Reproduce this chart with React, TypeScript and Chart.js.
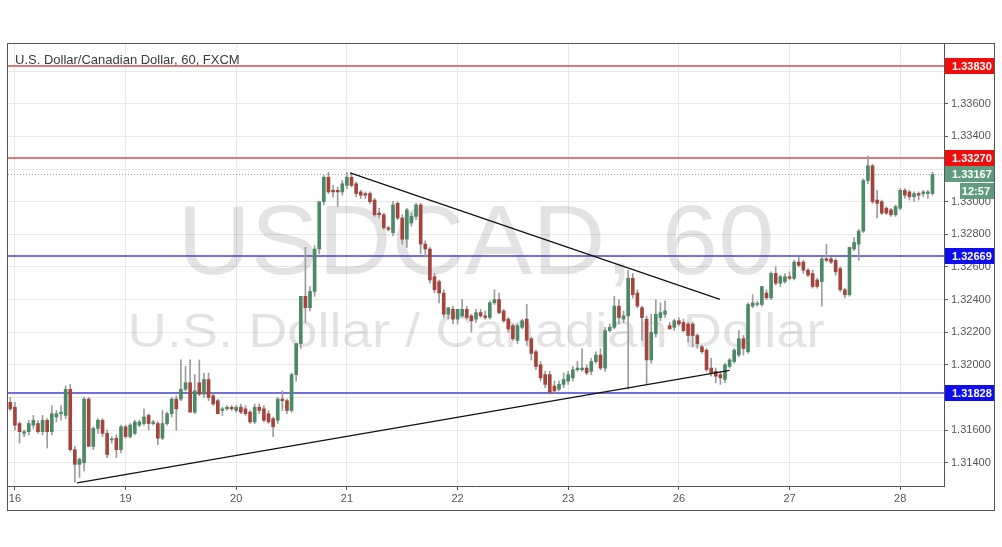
import React, { useEffect, useRef } from 'react';
import { Chart, registerables } from 'chart.js';

Chart.register(...registerables);

// ---- Data ----
const chartTitle = 'U.S. Dollar/Canadian Dollar, 60, FXCM';
const watermarkSymbol = 'USDCAD, 60';
const watermarkName = 'U.S. Dollar / Canadian Dollar';

const dayLabels = ['16', '19', '20', '21', '22', '23', '26', '27', '28'];
const dayStartIndex = [1, 25, 49, 73, 97, 121, 145, 169, 193];
const slotCount = 203;

const yMin = 1.31257;
const yMax = 1.33973;
const yStep = 0.002;

const open = [
  1.3177, 1.3174, 1.3164, 1.3158, 1.3159, 1.3163, 1.3164, 1.3159, 1.3166, 1.3159,
  1.3168, 1.3170, 1.3169, 1.3185, 1.3148, 1.3139, 1.3140, 1.3179, 1.3150, 1.3161,
  1.3166, 1.3158, 1.3154, 1.3155, 1.3148, 1.3162, 1.3156, 1.3158, 1.3163, 1.3164,
  1.3169, 1.3164, 1.3164, 1.3155, 1.3164, 1.3170, 1.3179, 1.3179, 1.3185, 1.3189,
  1.3171, 1.3189, 1.3182, 1.3191, 1.3181, 1.3178, 1.3172, 1.3173, 1.3174, 1.3172,
  1.3174, 1.3173, 1.3171, 1.3165, 1.3174, 1.3173, 1.3170, 1.3167, 1.3166, 1.3179,
  1.3178, 1.3172, 1.3194, 1.3213, 1.3242, 1.3235, 1.3245, 1.3271, 1.3300, 1.3315,
  1.3307, 1.3307, 1.3306, 1.3310, 1.3315, 1.3311, 1.3306, 1.3305, 1.3305, 1.3301,
  1.3293, 1.3292, 1.3284, 1.3281, 1.3299, 1.3290, 1.3277, 1.3287, 1.3291, 1.3298,
  1.3274, 1.3271, 1.3254, 1.3251, 1.3244, 1.3231, 1.3234, 1.3228, 1.3230, 1.3234,
  1.3230, 1.3228, 1.3232, 1.3230, 1.3229, 1.3238, 1.3240, 1.3233, 1.3228, 1.3224,
  1.3215, 1.3223, 1.3228, 1.3216, 1.3208, 1.3200, 1.3194, 1.3194, 1.3187, 1.3185,
  1.3188, 1.3190, 1.3192, 1.3197, 1.3197, 1.3198, 1.3196, 1.3202, 1.3206, 1.3198,
  1.3221, 1.3223, 1.3236, 1.3228, 1.3230, 1.3253, 1.3244, 1.3235, 1.3228, 1.3203,
  1.3219, 1.3229, 1.3231, 1.3224, 1.3223, 1.3227, 1.3226, 1.3225, 1.3225, 1.3218,
  1.3211, 1.3209, 1.3198, 1.3196, 1.3194, 1.3191, 1.3199, 1.3202, 1.3206, 1.3216,
  1.3208, 1.3236, 1.3237, 1.3237, 1.3244, 1.3241, 1.3256, 1.3250, 1.3251, 1.3254,
  1.3253, 1.3263, 1.3263, 1.3258, 1.3256, 1.3252, 1.3251, 1.3265, 1.3265, 1.3264,
  1.3259, 1.3246, 1.3243, 1.3271, 1.3274, 1.3282, 1.3313, 1.3322, 1.3301, 1.3300,
  1.3296, 1.3295, 1.3292, 1.3296, 1.3307, 1.3306, 1.3303, 1.3305, 1.3305, 1.3305,
  1.3305,
];
const high = [
  1.3180, 1.3177, 1.3165, 1.3160, 1.3166, 1.3169, 1.3166, 1.3169, 1.3167, 1.3175,
  1.3172, 1.3175, 1.3187, 1.3188, 1.3150, 1.3143, 1.3180, 1.3180, 1.3162, 1.3167,
  1.3167, 1.3160, 1.3156, 1.3157, 1.3163, 1.3163, 1.3164, 1.3166, 1.3166, 1.3173,
  1.3170, 1.3166, 1.3165, 1.3172, 1.3171, 1.3180, 1.3181, 1.3203, 1.3199, 1.3203,
  1.3194, 1.3203, 1.3195, 1.3195, 1.3182, 1.3179, 1.3174, 1.3175, 1.3175, 1.3175,
  1.3176, 1.3175, 1.3172, 1.3176, 1.3176, 1.3175, 1.3172, 1.3168, 1.3180, 1.3184,
  1.3179, 1.3195, 1.3213, 1.3242, 1.3272, 1.3248, 1.3273, 1.3300, 1.3316, 1.3318,
  1.3310, 1.3309, 1.3313, 1.3318, 1.3317, 1.3312, 1.3307, 1.3306, 1.3306, 1.3302,
  1.3296, 1.3293, 1.3285, 1.3300, 1.3300, 1.3292, 1.3296, 1.3293, 1.3299, 1.3299,
  1.3276, 1.3272, 1.3256, 1.3252, 1.3246, 1.3235, 1.3236, 1.3234, 1.3240, 1.3236,
  1.3231, 1.3234, 1.3234, 1.3233, 1.3239, 1.3246, 1.3244, 1.3234, 1.3229, 1.3225,
  1.3225, 1.3228, 1.3237, 1.3217, 1.3209, 1.3202, 1.3196, 1.3196, 1.3190, 1.3190,
  1.3195, 1.3196, 1.3199, 1.3202, 1.3210, 1.3200, 1.3204, 1.3208, 1.3210, 1.3223,
  1.3225, 1.3242, 1.3240, 1.3233, 1.3258, 1.3256, 1.3246, 1.3236, 1.3230, 1.3231,
  1.3240, 1.3238, 1.3239, 1.3226, 1.3228, 1.3229, 1.3228, 1.3226, 1.3226, 1.3219,
  1.3212, 1.3210, 1.3204, 1.3198, 1.3196, 1.3201, 1.3204, 1.3210, 1.3221, 1.3218,
  1.3238, 1.3243, 1.3239, 1.3248, 1.3246, 1.3257, 1.3260, 1.3255, 1.3256, 1.3257,
  1.3264, 1.3266, 1.3264, 1.3259, 1.3258, 1.3253, 1.3266, 1.3274, 1.3266, 1.3265,
  1.3260, 1.3247, 1.3272, 1.3278, 1.3283, 1.3314, 1.3328, 1.3323, 1.3307, 1.3301,
  1.3297, 1.3296, 1.3298, 1.3308, 1.3308, 1.3307, 1.3306, 1.3306, 1.3307, 1.3307,
  1.3318,
];
const low = [
  1.3172, 1.3160, 1.3152, 1.3156, 1.3157, 1.3161, 1.3158, 1.3157, 1.3149, 1.3157,
  1.3165, 1.3166, 1.3167, 1.3147, 1.3128, 1.3131, 1.3135, 1.3150, 1.3148, 1.3158,
  1.3156, 1.3143, 1.3152, 1.3143, 1.3146, 1.3155, 1.3155, 1.3157, 1.3162, 1.3163,
  1.3160, 1.3163, 1.3151, 1.3154, 1.3163, 1.3168, 1.3160, 1.3178, 1.3184, 1.3171,
  1.3170, 1.3181, 1.3180, 1.3178, 1.3175, 1.3170, 1.3169, 1.3172, 1.3172, 1.3171,
  1.3170, 1.3169, 1.3164, 1.3164, 1.3170, 1.3165, 1.3164, 1.3156, 1.3164, 1.3172,
  1.3170, 1.3171, 1.3190, 1.3210, 1.3226, 1.3233, 1.3242, 1.3268, 1.3298, 1.3305,
  1.3303, 1.3297, 1.3304, 1.3308, 1.3309, 1.3303, 1.3302, 1.3302, 1.3299, 1.3291,
  1.3290, 1.3283, 1.3282, 1.3279, 1.3289, 1.3274, 1.3272, 1.3285, 1.3289, 1.3268,
  1.3266, 1.3250, 1.3244, 1.3238, 1.3229, 1.3228, 1.3225, 1.3225, 1.3229, 1.3228,
  1.3220, 1.3226, 1.3229, 1.3228, 1.3228, 1.3237, 1.3231, 1.3226, 1.3220, 1.3215,
  1.3213, 1.3222, 1.3212, 1.3203, 1.3197, 1.3190, 1.3186, 1.3182, 1.3183, 1.3184,
  1.3186, 1.3188, 1.3190, 1.3196, 1.3196, 1.3194, 1.3194, 1.3201, 1.3197, 1.3196,
  1.3220, 1.3222, 1.3225, 1.3226, 1.3185, 1.3241, 1.3235, 1.3215, 1.3188, 1.3201,
  1.3217, 1.3227, 1.3229, 1.3222, 1.3221, 1.3224, 1.3220, 1.3214, 1.3211, 1.3210,
  1.3207, 1.3196, 1.3193, 1.3189, 1.3188, 1.3189, 1.3198, 1.3201, 1.3205, 1.3206,
  1.3207, 1.3235, 1.3236, 1.3236, 1.3240, 1.3240, 1.3249, 1.3248, 1.3250, 1.3252,
  1.3252, 1.3260, 1.3256, 1.3254, 1.3247, 1.3247, 1.3236, 1.3263, 1.3262, 1.3255,
  1.3245, 1.3241, 1.3242, 1.3270, 1.3264, 1.3281, 1.3311, 1.3299, 1.3290, 1.3292,
  1.3292, 1.3291, 1.3291, 1.3295, 1.3302, 1.3301, 1.3300, 1.3301, 1.3303, 1.3302,
  1.3304,
];
const close = [
  1.3173, 1.3163, 1.3159, 1.3159, 1.3164, 1.3166, 1.3159, 1.3166, 1.3159, 1.3170,
  1.3170, 1.3171, 1.3185, 1.3148, 1.3139, 1.3142, 1.3179, 1.3150, 1.3161, 1.3166,
  1.3158, 1.3145, 1.3154, 1.3148, 1.3162, 1.3156, 1.3163, 1.3165, 1.3165, 1.3168,
  1.3164, 1.3165, 1.3155, 1.3164, 1.3170, 1.3179, 1.3173, 1.3185, 1.3189, 1.3171,
  1.3184, 1.3182, 1.3191, 1.3180, 1.3176, 1.3170, 1.3173, 1.3174, 1.3173, 1.3174,
  1.3171, 1.3170, 1.3165, 1.3174, 1.3172, 1.3166, 1.3165, 1.3162, 1.3179, 1.3178,
  1.3172, 1.3194, 1.3213, 1.3242, 1.3235, 1.3245, 1.3271, 1.3300, 1.3315, 1.3306,
  1.3306, 1.3306, 1.3311, 1.3315, 1.3310, 1.3305, 1.3304, 1.3304, 1.3300, 1.3292,
  1.3292, 1.3284, 1.3283, 1.3298, 1.3290, 1.3277, 1.3295, 1.3291, 1.3298, 1.3274,
  1.3271, 1.3252, 1.3246, 1.3244, 1.3231, 1.3235, 1.3228, 1.3234, 1.3234, 1.3229,
  1.3227, 1.3232, 1.3230, 1.3229, 1.3238, 1.3240, 1.3232, 1.3227, 1.3222, 1.3216,
  1.3224, 1.3227, 1.3215, 1.3207, 1.3199, 1.3192, 1.3188, 1.3183, 1.3184, 1.3188,
  1.3191, 1.3194, 1.3197, 1.3198, 1.3198, 1.3195, 1.3202, 1.3206, 1.3198, 1.3221,
  1.3223, 1.3236, 1.3229, 1.3230, 1.3253, 1.3243, 1.3236, 1.3229, 1.3203, 1.3220,
  1.3231, 1.3232, 1.3233, 1.3222, 1.3227, 1.3225, 1.3221, 1.3218, 1.3218, 1.3213,
  1.3208, 1.3197, 1.3195, 1.3193, 1.3192, 1.3200, 1.3203, 1.3209, 1.3216, 1.3210,
  1.3237, 1.3238, 1.3237, 1.3248, 1.3241, 1.3256, 1.3250, 1.3254, 1.3254, 1.3253,
  1.3263, 1.3261, 1.3258, 1.3255, 1.3248, 1.3248, 1.3265, 1.3264, 1.3263, 1.3257,
  1.3246, 1.3243, 1.3272, 1.3275, 1.3282, 1.3313, 1.3322, 1.3300, 1.3299, 1.3293,
  1.3293, 1.3292, 1.3297, 1.3307, 1.3304, 1.3303, 1.3305, 1.3304, 1.3306, 1.3306,
  1.33167,
];

const resistanceLevels = [1.3383, 1.3327];
const supportLevels = [1.32669, 1.31828];
const lastPrice = 1.33167;
const barTimeLeft = '12:57';

// trend lines: [startIndex, startPrice, endIndex, endPrice]
const risingTrendLine = [14.5, 1.31276, 156, 1.31966];
const fallingTrendLine = [73.7, 1.33177, 153.9, 1.32401];

// ---- Styles ----
const UP = '#4b8a65';
const DOWN = '#a3443d';
const WICK = '#9c9c9c';
const FONT = "'Liberation Sans', Arial, sans-serif";

export default function App() {
  const ref = useRef<HTMLCanvasElement>(null);

  useEffect(() => {
    if (!ref.current) return;
    const labels: string[] = Array.from({ length: slotCount }, () => '');
    dayStartIndex.forEach((idx, k) => { labels[idx] = dayLabels[k]; });
    const bodies = open.map((o, i) => [o, close[i]]);
    const wicks = low.map((l, i) => [l, high[i]]);
    const colors = open.map((o, i) => (close[i] >= o ? UP : DOWN));

    const overlay = {
      id: 'overlay',
      beforeDatasetsDraw(chart: any) {
        const { ctx, chartArea: a, scales } = chart;
        const y = scales.y;
        ctx.save();
        ctx.beginPath();
        ctx.rect(a.left, a.top, a.right - a.left, a.bottom - a.top);
        ctx.clip();
        // watermark
        ctx.fillStyle = 'rgba(0,0,0,0.11)';
        ctx.textAlign = 'center';
        ctx.textBaseline = 'alphabetic';
        const cx = (a.left + a.right) / 2;
        const drawFit = (text: string, size: number, baseline: number, width: number) => {
          ctx.font = `${size}px ${FONT}`;
          const w = ctx.measureText(text).width;
          ctx.save();
          ctx.translate(cx, baseline);
          ctx.scale(width / w, 1);
          ctx.fillText(text, 0, 0);
          ctx.restore();
        };
        drawFit(watermarkSymbol, 98, 274, 597);
        drawFit(watermarkName, 48, 347, 697);
        // levels
        const hline = (v: number, color: string, w: number, dash: number[] = []) => {
          const py = w % 2 === 0 ? Math.round(y.getPixelForValue(v)) : Math.round(y.getPixelForValue(v)) + 0.5;
          ctx.strokeStyle = color;
          ctx.lineWidth = w;
          ctx.setLineDash(dash);
          ctx.beginPath();
          ctx.moveTo(a.left, py);
          ctx.lineTo(a.right, py);
          ctx.stroke();
        };
        resistanceLevels.forEach((v) => hline(v, 'rgba(222,96,96,0.85)', 2));
        supportLevels.forEach((v) => hline(v, 'rgba(96,96,210,0.9)', 2));
        hline(lastPrice, 'rgba(90,150,120,0.8)', 1, [1, 2]);
        ctx.restore();
      },
      afterDatasetsDraw(chart: any) {
        const { ctx, chartArea: a, scales } = chart;
        const x = scales.x;
        const y = scales.y;
        ctx.save();
        ctx.beginPath();
        ctx.rect(a.left, a.top, a.right - a.left, a.bottom - a.top);
        ctx.clip();
        ctx.strokeStyle = '#111';
        ctx.lineWidth = 1.2;
        [risingTrendLine, fallingTrendLine].forEach((t) => {
          ctx.beginPath();
          ctx.moveTo(x.getPixelForValue(t[0]), y.getPixelForValue(t[1]));
          ctx.lineTo(x.getPixelForValue(t[2]), y.getPixelForValue(t[3]));
          ctx.stroke();
        });
        ctx.restore();
      },
      afterDraw(chart: any) {
        const { ctx, chartArea: a, scales } = chart;
        const y = scales.y;
        ctx.save();
        // price labels
        const box = (v: number, bg: string) => {
          const py = y.getPixelForValue(v);
          ctx.fillStyle = bg;
          ctx.fillRect(a.right + 1, Math.round(py) - 8, 50, 16);
          ctx.fillStyle = '#fff';
          ctx.font = `bold 11px ${FONT}`;
          ctx.textAlign = 'left';
          ctx.textBaseline = 'middle';
          ctx.fillText(v.toFixed(5), a.right + 8, Math.round(py) + 0.5);
          return py;
        };
        resistanceLevels.forEach((v) => box(v, '#f20d0d'));
        supportLevels.forEach((v) => box(v, '#0d0df0'));
        const lp = box(lastPrice, '#5f9c7d');
        ctx.fillStyle = '#5f9c7d';
        ctx.fillRect(a.right + 16, Math.round(lp) + 9, 35, 16);
        ctx.fillStyle = '#fff';
        ctx.font = `bold 11px ${FONT}`;
        ctx.textAlign = 'right';
        ctx.textBaseline = 'middle';
        ctx.fillText(barTimeLeft, a.right + 46, Math.round(lp) + 17.5);
        // frame
        ctx.strokeStyle = '#555';
        ctx.lineWidth = 1;
        ctx.strokeRect(7.5, 43.5, 987, 467);
        // title
        ctx.fillStyle = '#3a3a3a';
        ctx.font = `13px ${FONT}`;
        ctx.textAlign = 'left';
        ctx.textBaseline = 'alphabetic';
        ctx.fillText(chartTitle, 15, 64);
        ctx.restore();
      },
    };

    const chart = new Chart(ref.current, {
      type: 'bar',
      data: {
        labels,
        datasets: [
          {
            data: wicks as any,
            backgroundColor: WICK,
            barThickness: 1,
            grouped: false,
            order: 2,
          } as any,
          {
            data: bodies as any,
            backgroundColor: colors,
            barThickness: 3,
            grouped: false,
            minBarLength: 1,
            order: 1,
          } as any,
        ],
      },
      options: {
        responsive: false,
        animation: false,
        layout: { padding: { left: 8, top: 43, right: 7, bottom: 36 } },
        plugins: { legend: { display: false }, tooltip: { enabled: false }, title: { display: false } },
        scales: {
          x: {
            type: 'category',
            offset: true,
            grid: { offset: false, color: '#e9e9e9', tickColor: '#555', tickLength: 4 },
            border: { color: '#555' },
            ticks: {
              autoSkip: false,
              maxRotation: 0,
              padding: 2,
              color: '#555',
              font: { family: FONT, size: 11 },
            },
            afterBuildTicks: (s: any) => {
              s.ticks = s.ticks.filter((t: any) => dayStartIndex.includes(t.value));
            },
            afterFit: (s: any) => { s.height = 25; },
          } as any,
          y: {
            type: 'linear',
            position: 'right',
            min: yMin,
            max: yMax,
            grid: { color: '#e9e9e9', tickColor: '#555', tickLength: 4 },
            border: { color: '#555' },
            ticks: {
              stepSize: yStep,
              includeBounds: false,
              padding: 3,
              color: '#555',
              font: { family: FONT, size: 11 },
              callback: (v: any) => Number(v).toFixed(5),
            },
            afterFit: (s: any) => { s.width = 51; },
          } as any,
        },
      },
      plugins: [overlay],
    });
    return () => chart.destroy();
  }, []);

  return (
    <div style={{ position: 'fixed', left: 0, top: 0, width: 1002, height: 547, background: '#fff' }}>
      <canvas ref={ref} width={1002} height={547} style={{ display: 'block' }} />
    </div>
  );
}
